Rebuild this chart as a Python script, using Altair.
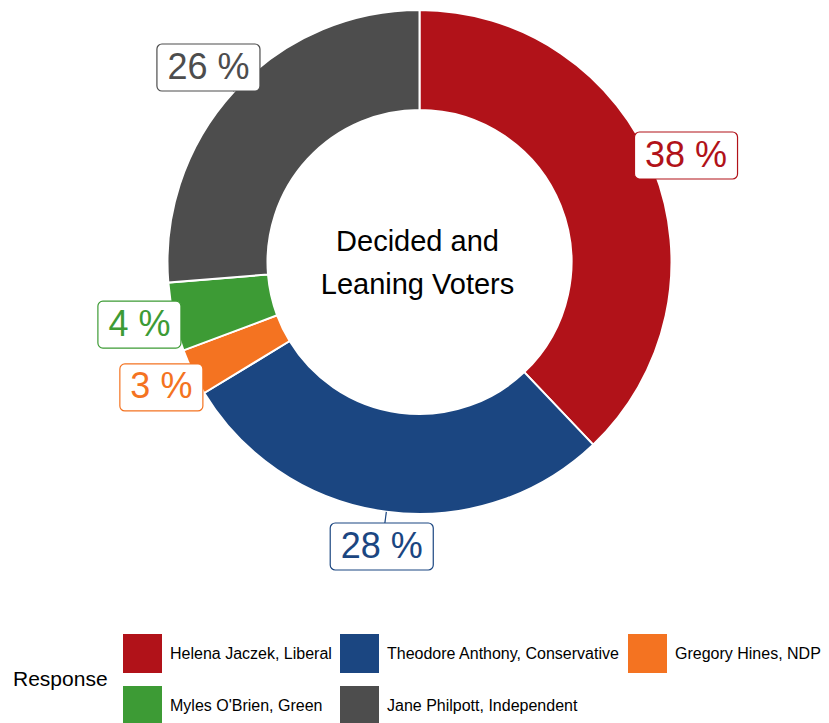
import altair as alt
import pandas as pd

# ---- data ----
names = [
    "Helena Jaczek, Liberal",
    "Theodore Anthony, Conservative",
    "Gregory Hines, NDP",
    "Myles O'Brien, Green",
    "Jane Philpott, Independent",
]
shares = [37.9, 28.4, 3.0, 4.4, 26.3]
colors = ["#B11219", "#1B4681", "#F47321", "#3D9B35", "#4D4D4D"]
center_title = ["Decided and", "Leaning Voters"]
legend_title = "Response"

df = pd.DataFrame({"name": names, "share": shares, "idx": list(range(len(names)))})

# ---- layout / style ----
FONT = "Liberation Sans"
W, H = 813, 715
CX, CY = 411.5, 254
R_OUT, R_IN, R_LAB = 252, 152, 287
LAB_SIZE = 36
BOX_HALF_H = 23.5
BOX_PAD = 10.5
CENTER_SIZE = 29
CENTER_LH = 43

color_scale = alt.Scale(domain=names, range=colors)

base = (
    alt.Chart(df)
    .transform_window(cum="sum(share)", sort=[alt.SortField("idx")], frame=[None, 0])
    .transform_joinaggregate(total="sum(share)")
    .transform_calculate(
        mid="2*PI*(datum.cum - datum.share/2)/datum.total",
        lab="format(datum.share, '.0f') + ' %'",
    )
    .transform_calculate(
        lx=f"{CX} + {R_LAB}*sin(datum.mid)",
        ly=f"{CY} - {R_LAB}*cos(datum.mid)",
        ex=f"{CX} + {R_OUT}*sin(datum.mid)",
        ey=f"{CY} - {R_OUT}*cos(datum.mid)",
        hw=f"((length(datum.lab)-2)*0.556 + 0.278 + 0.889)*{LAB_SIZE}/2 + {BOX_PAD}",
    )
    .transform_calculate(
        bx0="datum.lx - datum.hw",
        bx1="datum.lx + datum.hw",
        by0=f"datum.ly - {BOX_HALF_H}",
        by1=f"datum.ly + {BOX_HALF_H}",
    )
)

arcs = (
    alt.Chart(df)
    .mark_arc(outerRadius=R_OUT, innerRadius=R_IN, stroke="white", strokeWidth=2)
    .encode(
        theta=alt.Theta("share:Q", stack=True),
        order=alt.Order("idx:Q"),
        color=alt.Color(
            "name:N",
            scale=color_scale,
            legend=alt.Legend(
                title=legend_title,
                orient="none",
                legendX=5,
                legendY=626,
                direction="horizontal",
                columns=3,
                titleOrient="left",
                titleAnchor="middle",
                titleBaseline="middle",
                titleFont=FONT,
                titleFontSize=21,
                titleFontWeight="normal",
                titleColor="black",
                titlePadding=15,
                labelFont=FONT,
                labelFontSize=16,
                labelColor="black",
                labelLimit=400,
                labelOffset=8,
                symbolType="square",
                symbolSize=1521,
                symbolStrokeWidth=0,
                symbolOpacity=1,
                rowPadding=13,
                columnPadding=8,
                padding=0,
            ),
        ),
        x=alt.value(CX),
        y=alt.value(CY),
    )
)

leaders = base.mark_rule(strokeWidth=1.2).encode(
    x=alt.X("ex:Q", scale=None, axis=None),
    y=alt.Y("ey:Q", scale=None, axis=None),
    x2="lx:Q",
    y2="ly:Q",
    color=alt.Color("name:N", scale=color_scale, legend=None),
)

boxes = base.mark_rect(fill="white", strokeWidth=1.2, cornerRadius=5).encode(
    x=alt.X("bx0:Q", scale=None, axis=None),
    x2="bx1:Q",
    y=alt.Y("by0:Q", scale=None, axis=None),
    y2="by1:Q",
    stroke=alt.Stroke("name:N", scale=color_scale, legend=None),
)

labels = base.mark_text(font=FONT, fontSize=LAB_SIZE, align="center", baseline="middle").encode(
    x=alt.X("lx:Q", scale=None, axis=None),
    y=alt.Y("ly:Q", scale=None, axis=None),
    text="lab:N",
    color=alt.Color("name:N", scale=color_scale, legend=None),
)

center = (
    alt.Chart(alt.Data(values=[{"k": 0}]))
    .mark_text(
        text=center_title,
        font=FONT,
        fontSize=CENTER_SIZE,
        lineHeight=CENTER_LH,
        color="black",
        align="center",
        baseline="middle",
    )
    .encode(x=alt.value(CX - 2), y=alt.value(CY - CENTER_LH / 2 + 1))
)

chart = (
    alt.layer(arcs, leaders, boxes, labels, center)
    .properties(width=W, height=H, padding=0, autosize=alt.AutoSizeParams(type="none"))
    .configure_view(stroke=None)
)

chart.save("out.html", embed_options={"renderer": "svg", "actions": False})
